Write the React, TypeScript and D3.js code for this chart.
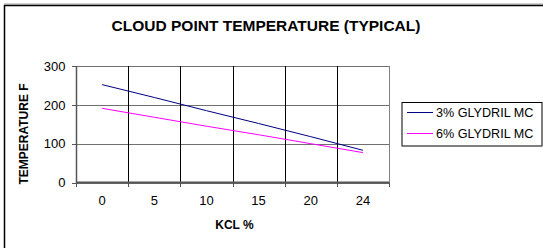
import React from 'react'
import * as d3 from 'd3'

const categories = ['0', '5', '10', '15', '20', '24']
const glydril3 = [252, 219, 185, 152, 118, 83]
const glydril6 = [191, 168, 145, 123, 100, 77]
const yTicks = [0, 100, 200, 300]
const seriesNames = ['3% GLYDRIL MC', '6% GLYDRIL MC']
const seriesColors = ['#000080', '#ff00ff']

const W = 543
const H = 248
const font = '"Liberation Sans", Arial, sans-serif'

export default function App() {
    const x = d3.scaleBand<string>().domain(categories).range([76, 389]).padding(0)
    const y = d3.scaleLinear().domain([0, 300]).range([182.5, 66])

    const line = d3.line<number>()
        .x((d, i) => (x(categories[i]) as number) + x.bandwidth() / 2)
        .y(d => y(d))

    const series = [glydril3, glydril6]
    // boundaries between categories, like Excel's tick marks
    const bounds = categories.map(c => x(c) as number).concat([x.range()[1]])

    return (
        <svg width={W} height={H} style={{ position: 'absolute', left: 0, top: 0, background: '#fff' }}
            fontFamily={font}>
            <rect x={0} y={0} width={W} height={H} fill="#fff" />
            {/* chart area border */}
            <line x1={4} y1={4} x2={W} y2={4} stroke="#a0a0a0" strokeWidth={1} />
            <path d={`M4.5,${H} L4.5,5.5 L${W},5.5`} fill="none" stroke="#000" strokeWidth={1.5} />

            <text x={266} y={30.5} textAnchor="middle" fontSize={15.5} fontWeight="bold">
                CLOUD POINT TEMPERATURE (TYPICAL)
            </text>

            {/* horizontal grid */}
            {yTicks.map(t => (
                <line key={'h' + t} x1={76} x2={389} y1={Math.round(y(t)) + 0.5} y2={Math.round(y(t)) + 0.5}
                    stroke="#707070" strokeWidth={1.2} />
            ))}
            {/* vertical grid */}
            {bounds.slice(1, -1).map((b, i) => (
                <line key={'v' + i} x1={Math.round(b) + 0.5} x2={Math.round(b) + 0.5} y1={66} y2={182.5}
                    stroke="#000" strokeWidth={1} />
            ))}
            <line x1={389.5} x2={389.5} y1={66} y2={182.5} stroke="#808080" strokeWidth={1} />

            {/* axes */}
            <line x1={76.5} x2={76.5} y1={66} y2={183} stroke="#555" strokeWidth={1.5} />
            <line x1={76} x2={389.5} y1={182.5} y2={182.5} stroke="#555" strokeWidth={1.8} />
            {yTicks.map(t => (
                <g key={'yt' + t}>
                    <line x1={72} x2={76} y1={Math.round(y(t)) + 0.5} y2={Math.round(y(t)) + 0.5} stroke="#555" />
                    <text x={65.5} y={y(t) + 4.7} textAnchor="end" fontSize={13}>{t}</text>
                </g>
            ))}
            {bounds.map((b, i) => (
                <line key={'xt' + i} x1={Math.round(b) + 0.5} x2={Math.round(b) + 0.5} y1={182.5} y2={187}
                    stroke="#555" />
            ))}
            {categories.map(c => (
                <text key={'xl' + c} x={(x(c) as number) + x.bandwidth() / 2} y={205} textAnchor="middle" fontSize={13}>
                    {c}
                </text>
            ))}

            <text x={234.5} y={229.3} textAnchor="middle" fontSize={12} fontWeight="bold">KCL %</text>
            <text transform="translate(27.8,134) rotate(-90)" textAnchor="middle" fontSize={12} fontWeight="bold">
                TEMPERATURE F
            </text>

            {series.map((s, i) => (
                <path key={'s' + i} d={line(s) as string} fill="none" stroke={seriesColors[i]} strokeWidth={1} />
            ))}

            {/* legend */}
            <rect x={402} y={102.5} width={140} height={43.5} fill="#fff" stroke="#000" strokeWidth={1} />
            <line x1={402} x2={542} y1={146} y2={146} stroke="#808080" strokeWidth={1} />
            {seriesNames.map((n, i) => (
                <g key={'lg' + i}>
                    <line x1={407} x2={433} y1={112 + i * 21 + 0.5} y2={112 + i * 21 + 0.5}
                        stroke={seriesColors[i]} strokeWidth={1} />
                    <text x={436} y={117 + i * 21} fontSize={12.6}>{n}</text>
                </g>
            ))}
        </svg>
    )
}
